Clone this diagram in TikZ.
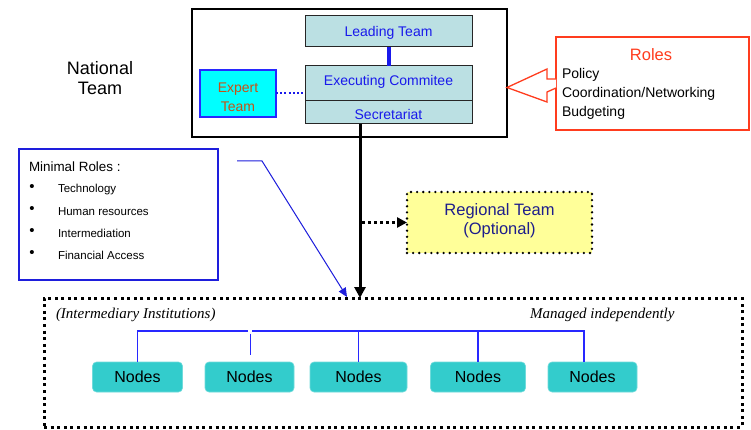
\documentclass[tikz,border=0pt]{standalone}
\usepackage{fontspec}
\setmainfont{Liberation Sans}
\newfontfamily\serifit{Liberation Serif}
\usetikzlibrary{arrows.meta,calc}
\definecolor{boxfill}{RGB}{187,224,227}
\definecolor{txtblue}{RGB}{25,25,235}
\definecolor{expfill}{RGB}{0,255,255}
\definecolor{expborder}{RGB}{40,40,255}
\definecolor{exptext}{RGB}{200,80,20}
\definecolor{rolesred}{RGB}{255,60,30}
\definecolor{minblue}{RGB}{30,30,220}
\definecolor{regfill}{RGB}{255,255,153}
\definecolor{regtext}{RGB}{30,30,140}
\definecolor{nodefill}{RGB}{51,204,204}
\definecolor{busblue}{RGB}{40,40,255}
\begin{document}
\begin{tikzpicture}[x=1pt,y=-1pt,
  every node/.style={inner sep=0pt,outer sep=0pt},
  frame/.style={anchor=north west},
  teambox/.style={frame,draw=black!85,line width=1pt,fill=boxfill,minimum width=167pt},
  bluetxt/.style={text=txtblue,font=\fontsize{14}{19}\selectfont},
  roletxt/.style={anchor=west,font=\fontsize{14}{19}\selectfont},
  mintxt/.style={anchor=west,font=\fontsize{11.5}{14}\selectfont},
  instnode/.style={draw=nodefill!70!white,line width=0.6pt,fill=nodefill,rounded corners=4pt,minimum height=30pt,font=\fontsize{16}{19}\selectfont},
  bus/.style={draw=busblue,line width=1.1pt},
  italtxt/.style={font=\serifit\itshape\fontsize{15}{17}\selectfont}
]
\useasboundingbox (0,0) rectangle (751,430);
\fill[white] (0,0) rectangle (751,430);

% National team frame
\node[frame,draw=black,line width=1.2pt,minimum width=315pt,minimum height=128pt] (nat) at (192,9) {};
\node[align=center,font=\fontsize{18}{20}\selectfont] (natlbl) at (100,78.5) {National\\Team};

% Team boxes
\node[teambox,minimum height=31pt] (lead) at (305,16) {};
\node[teambox,minimum height=35pt] (exec) at (305,66) {};
\node[teambox,minimum height=23pt] (secr) at (305,101) {};
\node[bluetxt] (leadt) at (388.5,32.5) {Leading Team};
\node[bluetxt] (exect) at (388.5,81.5) {Executing Commitee};
\node[bluetxt] (secrt) at (388.5,114.5) {Secretariat};
\draw[txtblue,line width=4pt] (lead.south) -- (exec.north);

% Expert team
\node[frame,draw=expborder,line width=1.5pt,fill=expfill,minimum width=76pt,minimum height=47pt] (exp) at (200,70) {};
\node[align=center,text=exptext,font=\fontsize{14}{19}\selectfont] (expt) at (238,97) {Expert\\Team};
\draw[txtblue,line width=2pt,dash pattern=on 2pt off 2.2pt] (exp.east) -- (exp.east -| exec.west);

% Roles box
\node[frame,draw=rolesred,line width=1.3pt,minimum width=193pt,minimum height=93pt] (roles) at (556,37) {};
\node[text=rolesred,font=\fontsize{16.5}{19}\selectfont] (rolest) at (651,54.5) {Roles};
\node[roletxt] (r1) at (562,74.5) {Policy};
\node[roletxt] (r2) at (562,93.5) {Coordination/Networking};
\node[roletxt] (r3) at (562,112.5) {Budgeting};
\draw[rolesred,line width=1.3pt,fill=white,line join=miter]
  ($(roles.west)+(0,-4.5)$) -- ++(-9,0) -- ++(0,-10) -- (nat.east |- 0,87.5) -- (547,102) -- ++(0,-10) -- ($(roles.west)+(0,4.5)$);

% Minimal roles
\node[frame,draw=minblue,line width=1.2pt,minimum width=199pt,minimum height=131pt] (minr) at (19,149) {};
\node[anchor=west,font=\fontsize{13.4}{16}\selectfont] (mint) at (29,166.5) {Minimal Roles :};
\foreach \yy/\tt [count=\i] in {188/Technology,210/Human resources,232/Intermediation,254/Financial Access}{
  \node[font=\fontsize{15}{16}\selectfont] (b\i) at (32,\yy) {•};
  \node[mintxt] (m\i) at (58,\yy+1.5) {\tt};
}

% Regional team
\node[frame,draw=black,line width=2.6pt,line cap=round,dash pattern=on 0pt off 6.1pt,fill=regfill,minimum width=185pt,minimum height=61pt] (reg) at (407,192) {};
\node[align=center,text=regtext,font=\fontsize{16.5}{19}\selectfont] (regt) at (499.5,220.5) {Regional Team\\(Optional)};

% Bottom institutions frame
\node[frame,draw=black,line width=3pt,dash pattern=on 3pt off 3.6pt,minimum width=698pt,minimum height=129pt] (inst) at (44,298) {};
\node[italtxt,anchor=west] (it1) at (56,315) {(Intermediary Institutions)};
\node[italtxt,anchor=west] (it2) at (530,315) {Managed independently};

% main vertical arrow and dotted arrow
\coordinate (vx) at (360,0);
\draw[black,line width=3pt,-{Triangle[length=11pt,width=11pt]}] (secr.south -| vx) -- (inst.north -| vx);
\draw[black,line width=3pt,dash pattern=on 3pt off 3pt,-{Triangle[length=10pt,width=10pt]}] ($(reg.west -| vx)+(2,0)$) -- (reg.west);

% blue arrow from minimal roles
\coordinate (bstart) at (237,161);
\coordinate (btip) at (347,297);
\draw[minblue,line width=1pt,-{Triangle[length=9pt,width=8pt]}] (bstart) -- (262,161) -- (btip);

% Nodes
\node[instnode,minimum width=90pt] (n1) at (137.5,377) {Nodes};
\node[instnode,minimum width=89pt] (n2) at (249.5,377) {Nodes};
\node[instnode,minimum width=97pt] (n3) at (358.5,377) {Nodes};
\node[instnode,minimum width=95pt] (n4) at (478,377) {Nodes};
\node[instnode,minimum width=89pt] (n5) at (592.5,377) {Nodes};

\coordinate (busy) at (0,331);
\coordinate (n5top) at ($(n5.north)+(-8.5,0)$);
\draw[bus] (n1.north) -- (n1.north |- busy) -- (248,331);
\draw[bus] (252,331) -- (n5top |- busy) -- (n5top);
\draw[busblue,line width=1.8pt] (252,331) -- (n3.north |- busy);
\draw[bus] (n3.north |- busy) -- (n3.north);
\draw[bus] (n4.north |- busy) -- (n4.north);
\draw[busblue,line width=0.9pt] (250,333.5) -- (250,355);
\end{tikzpicture}
\end{document}
